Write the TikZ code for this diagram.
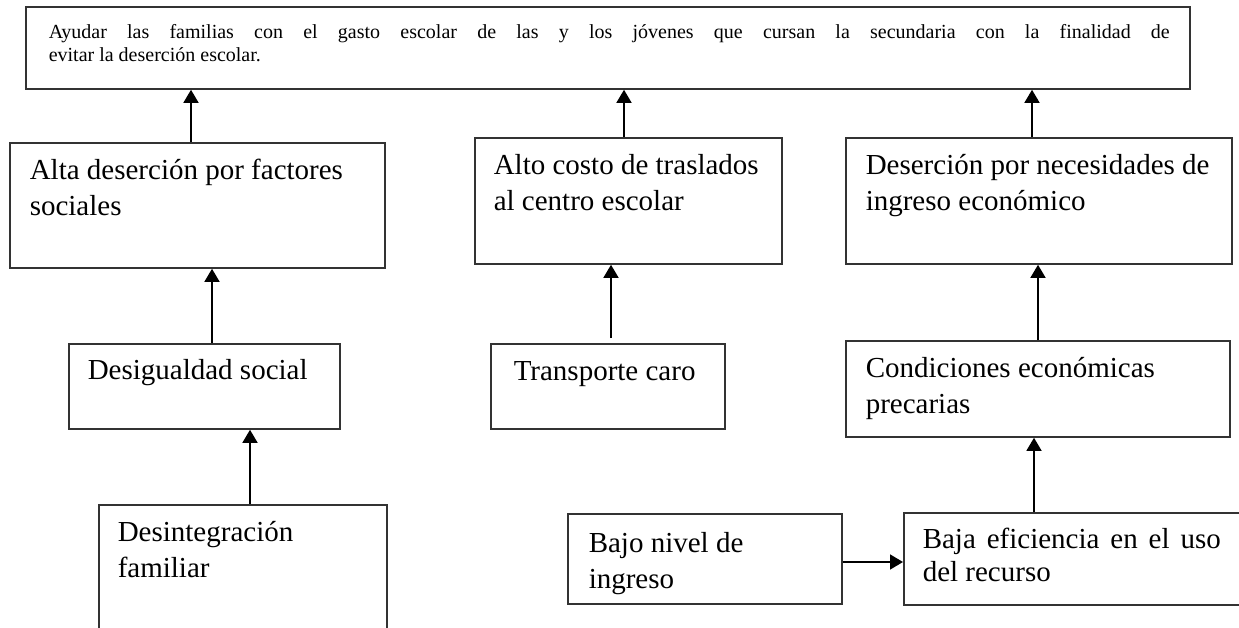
\documentclass[tikz,border=0pt]{standalone}
\usepackage{fontspec}
\setmainfont{Liberation Serif}[Ligatures=CommonOff]
\usetikzlibrary{arrows.meta,calc}

\begin{document}
\begin{tikzpicture}[x=1pt, y=-1pt, line width=1.5pt,
        >={Triangle[width=15pt,length=13pt]},
        box/.style={rectangle, draw=black!80, line width=1.8pt, anchor=north west, inner sep=0pt},
        txt/.style={anchor=base west, align=left, inner sep=0pt, font=\fontsize{29}{36}\selectfont}]

        \useasboundingbox (0,0) rectangle (1239,628);
        \clip (0,0) rectangle (1239,628);

        % cajas
        \node [box, minimum width=1164pt, minimum height=82pt] (meta) at (25,6) {};
        \node [box, minimum width=375pt, minimum height=125pt] (alta) at (9,142) {};
        \node [box, minimum width=307pt, minimum height=126pt] (costo) at (474,137) {};
        \node [box, minimum width=386pt, minimum height=126pt] (necesidad) at (845,137) {};
        \node [box, minimum width=271pt, minimum height=85pt] (desigualdad) at (68,343) {};
        \node [box, minimum width=234pt, minimum height=85pt] (transporte) at (490,343) {};
        \node [box, minimum width=384pt, minimum height=96pt] (condiciones) at (845,340) {};
        \node [box, minimum width=288pt, minimum height=160pt] (desintegracion) at (98,504) {};
        \node [box, minimum width=274pt, minimum height=90pt] (bajo) at (567,513) {};
        \node [box, minimum width=360pt, minimum height=92pt] (baja) at (903,512) {};

        % textos (base = ultima linea)
        \node [txt, text width=1121pt, align=justify, font=\fontsize{20}{23}\selectfont] (metatxt) at (48,39)
            {Ayudar las familias con el gasto escolar de las y los jóvenes que cursan la secundaria con la finalidad de\linebreak evitar la deserción escolar.};
        \node [txt] (altatxt) at (29,216) {Alta deserción por factores\\sociales};
        \node [txt] (costotxt) at (493,211) {Alto costo de traslados\\al centro escolar};
        \node [txt] (necesidadtxt) at (865,211) {Deserción por necesidades de\\ingreso económico};
        \node [txt] (desigualdadtxt) at (87,379) {Desigualdad social};
        \node [txt] (transportetxt) at (513,380) {Transporte caro};
        \node [txt] (condicionestxt) at (865,413) {Condiciones económicas\\precarias};
        \node [txt] (desintegraciontxt) at (117,577) {Desintegración\\familiar};
        \node [txt] (bajotxt) at (588,588) {Bajo nivel de\\ingreso};
        \node [txt, text width=298pt, align=justify, font=\fontsize{29}{33}\selectfont] (bajatxt) at (922,548)
            {Baja eficiencia en el uso\linebreak del recurso};

        % flechas
        \draw [->] ($(alta.north west)+(182,0)$) coordinate (a1) -- (a1 |- meta.south);
        \draw [->] ($(costo.north west)+(150,0)$) coordinate (a2) -- (a2 |- meta.south);
        \draw [->] ($(necesidad.north west)+(187,0)$) coordinate (a3) -- (a3 |- meta.south);
        \draw [->] ($(desigualdad.north west)+(144,0)$) coordinate (a4) -- (a4 |- alta.south);
        \draw [->] ($(transporte.north west)+(121,-5)$) coordinate (a5) -- (a5 |- costo.south);
        \draw [->] ($(condiciones.north west)+(193,0)$) coordinate (a6) -- (a6 |- necesidad.south);
        \draw [->] ($(desintegracion.north west)+(152,0)$) coordinate (a7) -- (a7 |- desigualdad.south);
        \draw [->] ($(baja.north west)+(131,0)$) coordinate (a8) -- (a8 |- condiciones.south);
        \draw [->] ($(bajo.north east)+(0,49)$) coordinate (a9) -- (a9 -| baja.west);
    \end{tikzpicture}
\end{document}
